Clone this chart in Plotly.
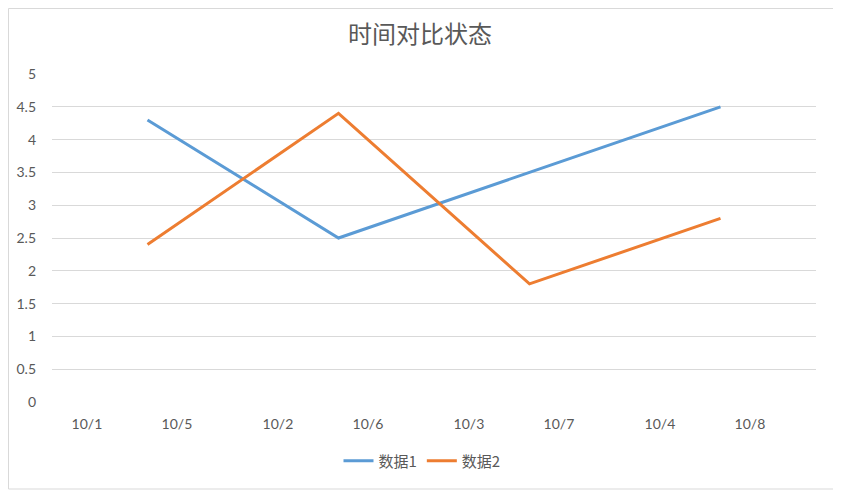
import plotly.graph_objects as go

# 每个分类下两个日期标签
labels_left = ["10/1", "10/2", "10/3", "10/4"]
labels_right = ["10/5", "10/6", "10/7", "10/8"]
data1 = [4.3, 2.5, 3.5, 4.5]
data2 = [2.4, 4.4, 1.8, 2.8]

idx = list(range(len(data1)))
tickvals = []
ticktext = []
for i in idx:
    tickvals += [i - 0.317, i + 0.154]
    ticktext += [labels_left[i], labels_right[i]]

# page body has an 8px margin, so the figure is 8px smaller than the window
W, H = 833, 487

fig = go.Figure()
fig.add_trace(go.Scatter(x=idx, y=data1, mode="lines", name="数据1",
                         line=dict(color="#5B9BD5", width=3)))
fig.add_trace(go.Scatter(x=idx, y=data2, mode="lines", name="数据2",
                         line=dict(color="#ED7D31", width=3)))

fig.update_layout(
    width=W, height=H,
    margin=dict(l=44, r=25, t=66, b=93, autoexpand=False),
    paper_bgcolor="white", plot_bgcolor="white",
    font=dict(family="Lato, Noto Sans CJK SC", size=14, color="#595959"),
    title=dict(text="时间对比状态", x=(420 - 8) / W, xref="container", xanchor="center",
               y=1 - (35 - 8) / H, yref="container", yanchor="middle",
               font=dict(family="Noto Sans CJK SC", size=24, color="#595959")),
    showlegend=True,
    legend=dict(orientation="h", x=(422 - 52) / 764, xanchor="center",
                y=-0.18, yanchor="middle",
                font=dict(family="Noto Sans CJK SC", size=15, color="#595959"),
                bgcolor="rgba(0,0,0,0)"),
    shapes=[dict(type="rect", xref="paper", yref="paper",
                 x0=-43.5 / 764, x1=(836 - 52) / 764,
                 y0=(402 - 489) / 328, y1=(402 - 8.5) / 328,
                 line=dict(color="#D9D9D9", width=1), layer="below")],
)
fig.update_xaxes(range=[-0.5, 3.5], tickvals=tickvals, ticktext=ticktext,
                 tickangle=0, automargin=False,
                 showgrid=False, zeroline=False, showline=False, ticks="",
                 tickfont=dict(size=14, color="#595959"), ticklabelstandoff=12)
fig.update_yaxes(range=[0, 5], dtick=0.5, showgrid=True, gridcolor="#D9D9D9",
                 automargin=False,
                 gridwidth=1, zeroline=False, showline=False, ticks="",
                 tickfont=dict(size=14, color="#595959"), ticklabelstandoff=15)

fig.write_html("out.html")
